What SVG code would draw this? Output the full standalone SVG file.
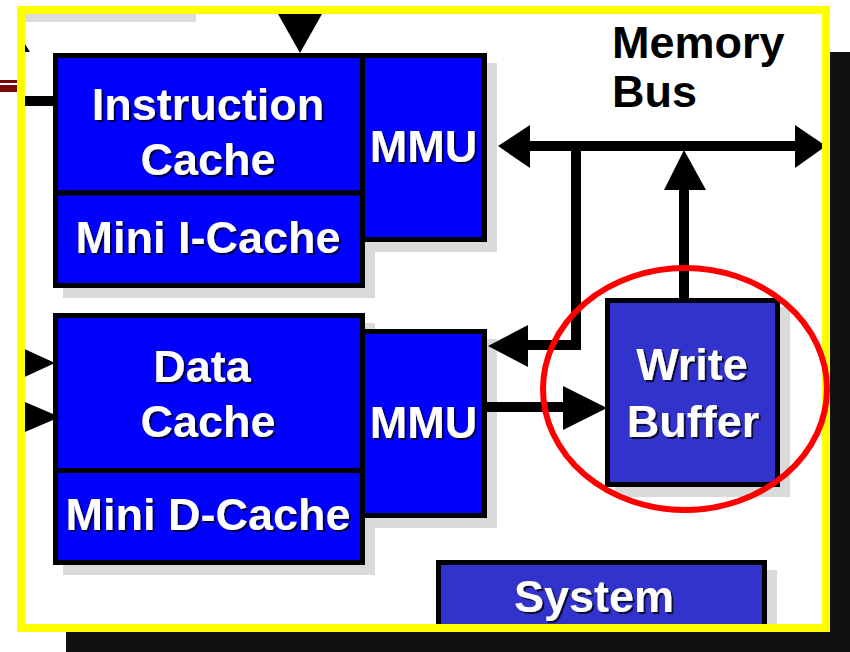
<svg xmlns="http://www.w3.org/2000/svg" width="850" height="652" viewBox="0 0 850 652">
<style>
.box{fill:#0000ff;stroke:#000;stroke-width:5}
.box2{fill:#3232cc;stroke:#000;stroke-width:5}
.shd{fill:#dadada}
.lbl{font-family:"Liberation Sans",Arial,sans-serif;font-weight:bold;font-size:45px;fill:#fff;text-anchor:middle;filter:url(#ts)}
.blk{font-family:"Liberation Sans",Arial,sans-serif;font-weight:bold;font-size:45px;fill:#000}
.wire{fill:none;stroke:#000;stroke-width:10}
.head{fill:#000}
</style>
<defs>
<filter id="ts" x="-10%" y="-20%" width="130%" height="150%">
<feDropShadow dx="2" dy="2" stdDeviation="0.6" flood-color="#000" flood-opacity="0.75"/>
</filter>
</defs>
<rect width="850" height="652" fill="#fff"/>
<!-- outer dark bands -->
<rect x="830" y="52" width="20" height="600" fill="#111"/>
<rect x="66" y="632" width="784" height="20" fill="#111"/>
<rect x="0" y="80" width="17" height="3" fill="#7a0a0a"/>
<rect x="0" y="85" width="17" height="7" fill="#7a0a0a"/>
<rect x="25" y="14" width="171" height="8" fill="#dcdcdc"/>

<g id="instruction-cache">
<rect class="shd" x="63" y="63" width="312" height="235"/>
<rect class="box" x="55.5" y="55.5" width="307" height="137.5"/>
<text class="lbl" x="208" y="120">Instruction</text>
<text class="lbl" x="208" y="175">Cache</text>
</g>
<g id="mini-i-cache">
<rect class="box" x="55.5" y="193" width="307" height="92.5"/>
<text class="lbl" x="208" y="253">Mini I-Cache</text>
</g>
<g id="mmu-i">
<rect class="shd" x="372" y="63" width="125" height="189"/>
<rect class="box" x="362.5" y="55.5" width="122" height="184"/>
<text class="lbl" x="423.5" y="162">MMU</text>
</g>

<g id="data-cache">
<rect class="shd" x="63" y="323" width="312" height="252"/>
<rect class="box" x="55.5" y="315.5" width="307" height="155"/>
<text class="lbl" x="202" y="382">Data</text>
<text class="lbl" x="208" y="437">Cache</text>
</g>
<g id="mini-d-cache">
<rect class="box" x="55.5" y="470.5" width="307" height="92"/>
<text class="lbl" x="208" y="530">Mini D-Cache</text>
</g>
<g id="mmu-d">
<rect class="shd" x="372" y="339" width="125" height="189"/>
<rect class="box" x="362.5" y="331.5" width="122" height="184"/>
<text class="lbl" x="423.5" y="438">MMU</text>
</g>

<g id="write-buffer">
<rect class="shd" x="615" y="307" width="175" height="190"/>
<rect class="box2" x="607.5" y="300.5" width="170" height="184"/>
<text class="lbl" x="692" y="380">Write</text>
<text class="lbl" x="693" y="437">Buffer</text>
</g>

<g id="system">
<rect class="shd" x="446" y="570" width="331" height="56"/>
<rect class="box2" x="438.5" y="562.5" width="326" height="64"/>
<text class="lbl" x="594" y="612">System</text>
</g>

<g id="memory-bus-label">
<text class="blk" x="612" y="58">Memory</text>
<text class="blk" x="612" y="107">Bus</text>
</g>

<g id="connectors">
<path class="wire" d="M25 101 H55"/>
<polygon class="head" points="278,14 322,14 300,53"/>
<polygon class="head" points="25,44 30,52 25,52"/>
<polygon class="head" points="18,346 55,363 18,380"/>
<polygon class="head" points="18,399 60,417 18,435"/>
<!-- memory bus -->
<path class="wire" d="M528 146 H797"/>
<polygon class="head" points="498,146 530,125 530,168"/>
<polygon class="head" points="795,125 826,146 795,168"/>
<!-- branch to data MMU -->
<path class="wire" d="M576 146 V345 H526"/>
<polygon class="head" points="488,346 528,325 528,367"/>
<!-- write buffer up -->
<path class="wire" d="M684 300 V188"/>
<polygon class="head" points="684,150 664,190 706,190"/>
<!-- mmu to write buffer -->
<path class="wire" d="M487 407 H565"/>
<polygon class="head" points="563,386 607,408 563,430"/>
</g>

<rect x="21" y="10" width="805" height="618" fill="none" stroke="#ffff00" stroke-width="8"/>
<ellipse id="highlight" cx="685" cy="389" rx="142" ry="121" fill="none" stroke="#ff0000" stroke-width="6"/>
</svg>
